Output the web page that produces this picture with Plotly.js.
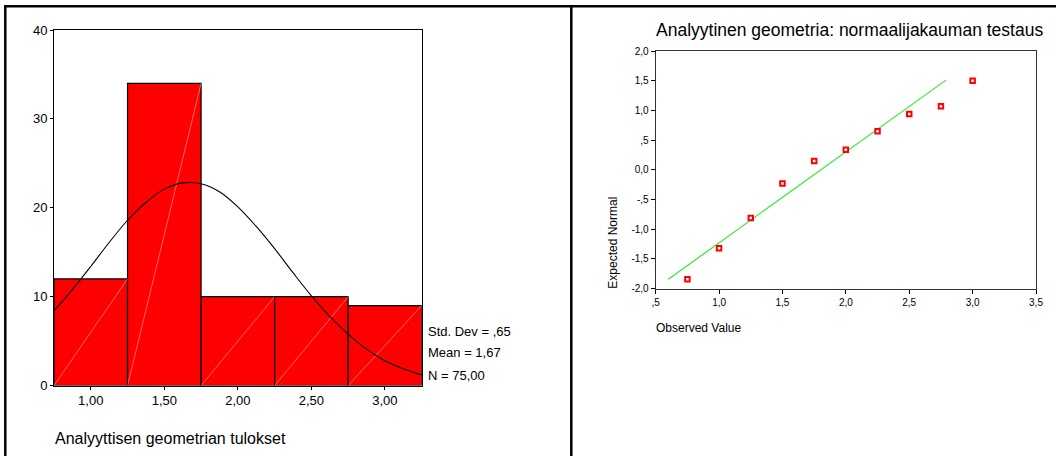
<!DOCTYPE html>
<html>
<head>
<meta charset="utf-8">
<script src="https://cdn.plot.ly/plotly-3.0.1.min.js"></script>
<style>
html,body{margin:0;padding:0;background:#fff;}
#chart{width:1056px;height:456px;}
</style>
</head>
<body>
<div id="chart"></div>
<script>
// ---- Histogram data (left panel) ----
const binCenters = [1.00, 1.50, 2.00, 2.50, 3.00];
const binCounts  = [12, 34, 10, 10, 9];
const binWidth = 0.5;

// Normal curve (x, frequency)
const curveX = [0.75,0.875,1.0,1.125,1.25,1.375,1.5,1.625,1.75,1.875,2.0,2.125,2.25,2.375,2.5,2.625,2.75,2.875,3.0,3.125,3.25];
const curveY = [8.4,10.8,13.4,16.1,18.6,20.6,22.1,22.8,22.7,21.8,20.1,17.9,15.4,12.7,10.1,7.8,5.8,4.1,2.8,1.9,1.2];

const histXTicks = [1.0, 1.5, 2.0, 2.5, 3.0];
const histXTickText = ["1,00", "1,50", "2,00", "2,50", "3,00"];
const histYTicks = [0, 10, 20, 30, 40];
const histYTickText = ["0", "10", "20", "30", "40"];
const statsLines = ["Std. Dev = ,65", "Mean = 1,67", "N = 75,00"];
const histTitle = "Analyyttisen geometrian tulokset";

// ---- Normal Q-Q data (right panel) ----
const observedValues = [0.75, 1.00, 1.25, 1.50, 1.75, 2.00, 2.25, 2.50, 2.75, 3.00];
const expectedNormal = [-1.84, -1.32, -0.81, -0.23, 0.15, 0.34, 0.65, 0.94, 1.07, 1.50];
const refLineX = [0.60, 2.79];
const refLineY = [-1.84, 1.51];

const qqXTicks = [0.5, 1.0, 1.5, 2.0, 2.5, 3.0, 3.5];
const qqXTickText = [",5", "1,0", "1,5", "2,0", "2,5", "3,0", "3,5"];
const qqYTicks = [2.0, 1.5, 1.0, 0.5, 0.0, -0.5, -1.0, -1.5, -2.0];
const qqYTickText = ["2,0", "1,5", "1,0", ",5", "0,0", "-,5", "-1,0", "-1,5", "-2,0"];
const qqTitle = "Analyytinen geometria: normaalijakauman testaus";
const qqXTitle = "Observed Value";
const qqYTitle = "Expected Normal";

// ---- layout helpers (pixel -> paper) ----
const W = 1056, H = 456;
const px = v => v / W;
const py = v => 1 - v / H;
const FONT = '"Liberation Sans", Arial, sans-serif';

const traces = [];

// bars
traces.push({
  type: 'bar', x: binCenters, y: binCounts, width: binWidth,
  marker: {color: '#ff0000', line: {color: '#000000', width: 1.2}},
  xaxis: 'x', yaxis: 'y', hoverinfo: 'skip'
});

// light diagonal pattern lines inside each bar
binCenters.forEach((c, i) => {
  traces.push({
    type: 'scatter', mode: 'lines',
    x: [c - binWidth / 2, c + binWidth / 2], y: [0, binCounts[i]],
    line: {color: 'rgba(255,190,190,0.9)', width: 0.6},
    xaxis: 'x', yaxis: 'y', hoverinfo: 'skip'
  });
});

// normal curve
traces.push({
  type: 'scatter', mode: 'lines', x: curveX, y: curveY,
  line: {color: '#000000', width: 1.1, shape: 'spline'},
  xaxis: 'x', yaxis: 'y', hoverinfo: 'skip'
});

// Q-Q reference line
traces.push({
  type: 'scatter', mode: 'lines', x: refLineX, y: refLineY,
  line: {color: '#33e833', width: 1.2},
  xaxis: 'x2', yaxis: 'y2', hoverinfo: 'skip'
});

// Q-Q points
traces.push({
  type: 'scatter', mode: 'markers', x: observedValues, y: expectedNormal,
  marker: {symbol: 'square-open', size: 4.5, color: '#ff0000', line: {color: '#ff0000', width: 2}},
  xaxis: 'x2', yaxis: 'y2', hoverinfo: 'skip'
});

const axisCommon = {
  showgrid: false, zeroline: false, showline: true, mirror: true,
  linecolor: '#000000', linewidth: 1, ticks: 'outside', tickcolor: '#000000',
  tickmode: 'array', fixedrange: true
};

const annotations = [];
statsLines.forEach((t, i) => {
  const ys = [331.7, 352.5, 375.5];
  annotations.push({
    xref: 'paper', yref: 'paper', x: px(425.5), y: py(ys[i]),
    xanchor: 'left', yanchor: 'middle', showarrow: false, text: t,
    font: {family: FONT, size: 13, color: '#000'}
  });
});
annotations.push({
  xref: 'paper', yref: 'paper', x: px(52.5), y: py(438),
  xanchor: 'left', yanchor: 'middle', showarrow: false, text: histTitle,
  font: {family: FONT, size: 16, color: '#000'}
});
annotations.push({
  xref: 'paper', yref: 'paper', x: px(654), y: py(29.5),
  xanchor: 'left', yanchor: 'middle', showarrow: false, text: qqTitle,
  font: {family: FONT, size: 17.5, color: '#000'}
});
annotations.push({
  xref: 'paper', yref: 'paper', x: px(653.5), y: py(327.5),
  xanchor: 'left', yanchor: 'middle', showarrow: false, text: qqXTitle,
  font: {family: FONT, size: 12, color: '#000'}
});
annotations.push({
  xref: 'paper', yref: 'paper', x: px(612.7), y: py(243),
  xanchor: 'center', yanchor: 'middle', showarrow: false, text: qqYTitle,
  textangle: -90,
  font: {family: FONT, size: 12, color: '#000'}
});

const shapes = [
  {type: 'line', xref: 'paper', yref: 'paper', x0: px(4), x1: 1, y0: py(6.2), y1: py(6.2), line: {color: '#000', width: 2.5}},
  {type: 'line', xref: 'paper', yref: 'paper', x0: px(5.3), x1: px(5.3), y0: py(5), y1: 0, line: {color: '#000', width: 2.5}},
  {type: 'line', xref: 'paper', yref: 'paper', x0: px(571.3), x1: px(571.3), y0: py(5), y1: 0, line: {color: '#000', width: 2.5}}
];

const layout = {
  width: W, height: H,
  margin: {l: 0, r: 0, t: 0, b: 0, pad: 0},
  paper_bgcolor: '#ffffff', plot_bgcolor: '#ffffff',
  showlegend: false, bargap: 0,
  font: {family: FONT, color: '#000'},
  xaxis: Object.assign({}, axisCommon, {
    domain: [px(54), px(421.7)], range: [0.75, 3.25],
    tickvals: histXTicks, ticktext: histXTickText, ticklen: 3,
    tickfont: {family: FONT, size: 13, color: '#000'}, anchor: 'y'
  }),
  yaxis: Object.assign({}, axisCommon, {
    domain: [py(385.6), py(30)], range: [0, 40],
    tickvals: histYTicks, ticktext: histYTickText, ticklen: 3,
    tickfont: {family: FONT, size: 13, color: '#000'}, anchor: 'x'
  }),
  xaxis2: Object.assign({}, axisCommon, {
    domain: [px(655.7), px(1036)], range: [0.5, 3.5],
    tickvals: qqXTicks, ticktext: qqXTickText, ticklen: 4,
    linecolor: '#333333',
    tickfont: {family: FONT, size: 10, color: '#000'}, anchor: 'y2'
  }),
  yaxis2: Object.assign({}, axisCommon, {
    domain: [py(288.7), py(51)], range: [-2, 2],
    tickvals: qqYTicks, ticktext: qqYTickText, ticklen: 4,
    linecolor: '#333333',
    tickfont: {family: FONT, size: 10, color: '#000'}, anchor: 'x2'
  }),
  annotations: annotations,
  shapes: shapes
};

Plotly.newPlot('chart', traces, layout, {displayModeBar: false, staticPlot: true});
</script>
</body>
</html>
